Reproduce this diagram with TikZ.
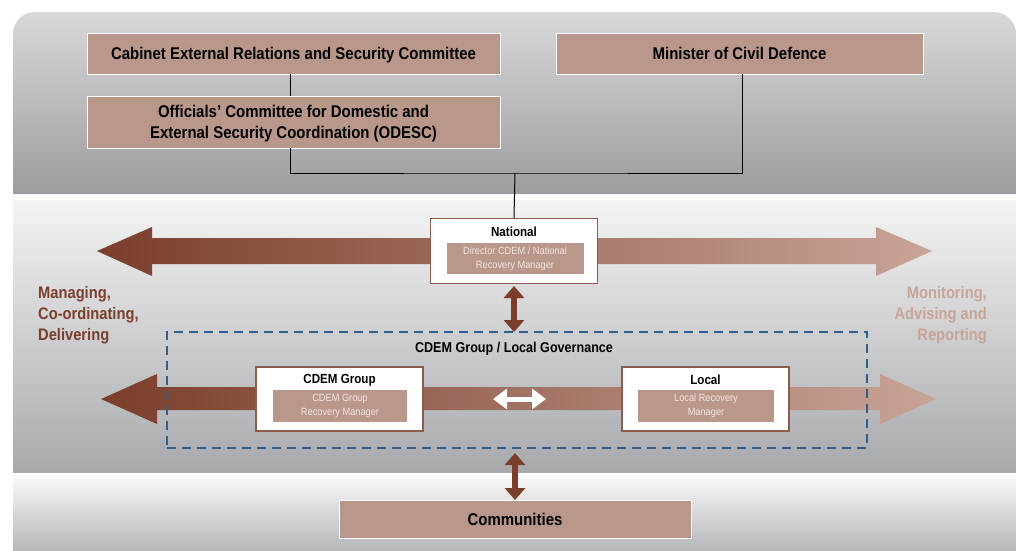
\documentclass[tikz,border=0pt]{standalone}
\usepackage{fontspec}
\setmainfont[FakeStretch=0.88]{Liberation Sans}
\usetikzlibrary{arrows.meta}
\definecolor{boxtan}{HTML}{B9978B}
\definecolor{darkbrown}{HTML}{7A3E2B}
\definecolor{lightbrown}{HTML}{C8A497}
\definecolor{boxborder}{HTML}{8C5C4C}
\definecolor{dashblue}{HTML}{2E5F8C}
\definecolor{subtext}{HTML}{F3E6E1}
\definecolor{pA}{HTML}{D8D8DA}
\definecolor{pB}{HTML}{EFEFEF}
\definecolor{pC}{HTML}{9C9DA1}
\definecolor{mA}{HTML}{F4F4F4}
\definecolor{mC}{HTML}{A8A9AD}
\definecolor{bA}{HTML}{F9F9F9}
\definecolor{bC}{HTML}{B6B7BB}
\tikzset{
  tanbox/.style={fill=boxtan, draw=white, line width=0.8pt, inner sep=0pt, font=\bfseries\fontsize{17}{21}\selectfont, align=center},
  oneline/.style={text height=14pt, text depth=2pt},
  whitebox/.style={fill=white, draw=boxborder, line width=1.5pt, inner sep=0pt},
  innerbox/.style={fill=boxtan, inner sep=0pt, text=subtext, font=\fontsize{10.5}{14}\selectfont, align=center},
  boxtitle/.style={font=\bfseries\fontsize{13.2}{15}\selectfont, inner sep=0pt},
  conn/.style={draw=black, line width=1pt},
  vdarrow/.style={draw=darkbrown, line width=6pt, {Triangle[width=20pt,length=12pt]}-{Triangle[width=20pt,length=12pt]}},
  wdarrow/.style={draw=white, line width=5pt, {Triangle[width=20pt,length=14pt]}-{Triangle[width=20pt,length=14pt]}},
  sidetext/.style={font=\bfseries\fontsize{16.7}{21}\selectfont, inner sep=0pt}
}
\begin{document}
\begin{tikzpicture}[x=1pt,y=-1pt]
\useasboundingbox (0,0) rectangle (1016,550);
\fill[white] (0,0) rectangle (1016,550);
% panels
\shade[top color=pA, middle color=pB, bottom color=pC]
  (13,194) {[rounded corners=22] -- (13,12) -- (1016,12)} -- (1016,194) -- cycle;
\shade[top color=mA, bottom color=mC] (13,200) rectangle (1016,472);
\shade[top color=bA, bottom color=bC] (13,476) rectangle (1016,550);
% big arrows
\shade[left color=darkbrown, right color=lightbrown]
  (97,251) -- (152,227) -- (152,238) -- (876,238) -- (876,227) -- (932,251)
  -- (876,276) -- (876,264) -- (152,264) -- (152,276) -- cycle;
\shade[left color=darkbrown, right color=lightbrown]
  (101,399) -- (157,374) -- (157,387) -- (880,387) -- (880,374) -- (936,399)
  -- (880,424) -- (880,410) -- (157,410) -- (157,424) -- cycle;
% top boxes
\node[tanbox, oneline, minimum width=413pt, minimum height=41pt] (cab) at (293.5,53.5) {Cabinet External Relations and Security Committee};
\node[tanbox, oneline, minimum width=367pt, minimum height=41pt] (min) at (739.5,53.5) {Minister of Civil Defence};
\node[tanbox, minimum width=413pt, minimum height=52pt] (odesc) at (293.5,122) {};
\node[font=\bfseries\fontsize{17}{21}\selectfont, align=center, inner sep=0pt] (odesct) at (293.5,124) {Officials' Committee for Domestic and\\External Security Coordination (ODESC)};
\coordinate (junc) at (515,173);
% national
\node[whitebox, minimum width=167pt, minimum height=65pt] (nat) at (514,251) {};
\node[boxtitle] (natt) at (514,232) {National};
\node[innerbox, minimum width=137pt, minimum height=31pt] (nati) at (515,258.5) {Director CDEM / National\\Recovery Manager};
\draw[conn] (cab.south -| 290,0) -- (odesc.north -| 290,0);
\draw[conn] (odesc.south -| 290,0) |- (junc) -| (min.south -| 742,0);
\draw[conn] (junc) -- (nat.north);
% dashed box
\node[draw=dashblue, dashed, dash pattern=on 9pt off 6pt, line width=1.5pt, minimum width=700pt, minimum height=116pt, inner sep=0pt] (grp) at (517,390) {};
\node[font=\bfseries\fontsize{14.3}{17}\selectfont, inner sep=0pt] (grpt) at (514,349) {CDEM Group / Local Governance};
\draw[vdarrow] (514,286) -- (514,332);
% group boxes
\node[whitebox, minimum width=167pt, minimum height=64pt] (cg) at (339.5,399) {};
\node[boxtitle] (cgt) at (339.5,380) {CDEM Group};
\node[innerbox, minimum width=134pt, minimum height=32pt] (cgi) at (340,406) {CDEM Group\\Recovery Manager};
\node[whitebox, minimum width=167pt, minimum height=64pt] (loc) at (705.5,399) {};
\node[boxtitle] (loct) at (705.5,380) {Local};
\node[innerbox, minimum width=136pt, minimum height=32pt] (loci) at (706,406) {Local Recovery\\Manager};
\draw[wdarrow] (493,399) -- (546,399);
% communities
\node[tanbox, oneline, minimum width=352pt, minimum height=38pt] (com) at (515,519.5) {Communities};
\draw[vdarrow] (515,453) -- (515,500);
% side texts
\node[sidetext, text=darkbrown, anchor=north west, align=left] (lt) at (38,286) {Managing,\\Co-ordinating,\\Delivering};
\node[sidetext, text=lightbrown, anchor=north east, align=right] (rt) at (987,286) {Monitoring,\\Advising and\\Reporting};
\end{tikzpicture}
\end{document}
